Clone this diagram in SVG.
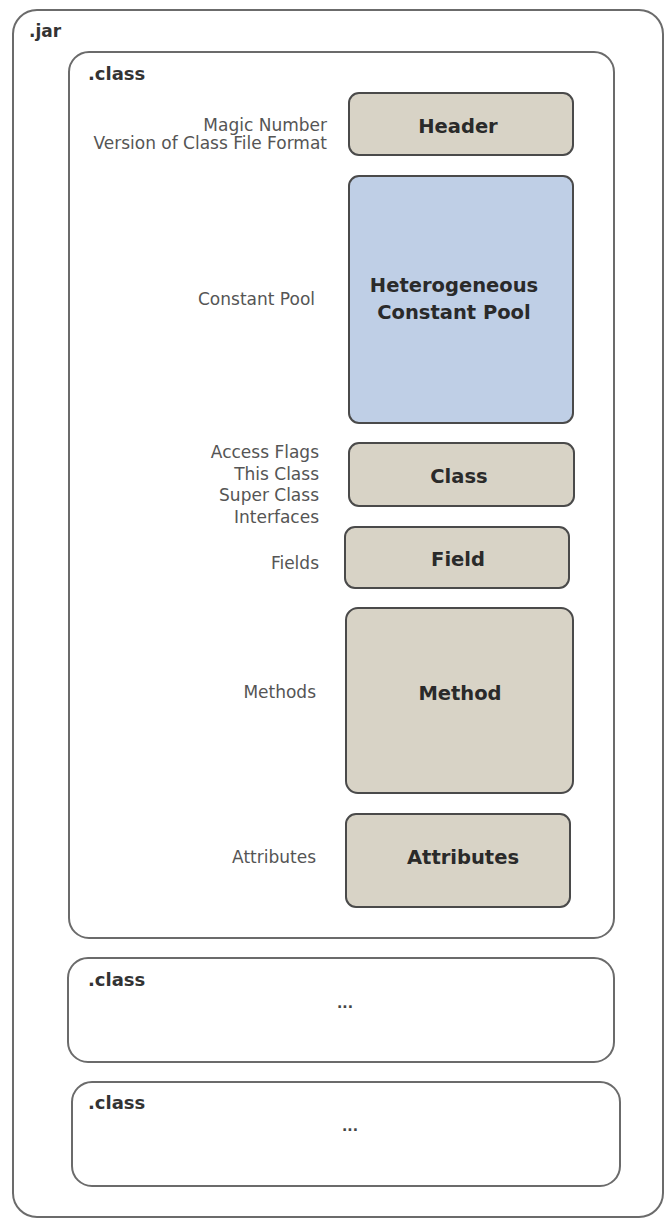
<svg xmlns="http://www.w3.org/2000/svg" width="668" height="1225" viewBox="0 0 668 1225">
<style>
.container{fill:#fff;stroke:#6b6b6b;stroke-width:2}
.box{fill:#d8d3c6;stroke:#4a4a4a;stroke-width:2}
.pool{fill:#bfcfe6;stroke:#4a4a4a;stroke-width:2}
.title{font-family:"DejaVu Sans",sans-serif;font-weight:bold;font-size:18px;fill:#333}
.name{font-family:"DejaVu Sans",sans-serif;font-weight:bold;font-size:19.5px;fill:#2a2a2a;text-anchor:middle}
.lbl{font-family:"DejaVu Sans",sans-serif;font-size:17px;fill:#555;text-anchor:end}
.dots{font-family:"DejaVu Sans",sans-serif;font-weight:bold;font-size:14px;fill:#444;text-anchor:middle}
</style>
<rect width="668" height="1225" fill="#fff"/>
<g id="jar">
<rect class="container" x="13" y="10" width="650" height="1207" rx="24"/>
<text class="title" x="29" y="37" style="font-size:17px">.jar</text>
</g>
<g id="class1">
<rect class="container" x="69" y="52" width="545" height="886" rx="20"/>
<text class="title" x="88" y="80">.class</text>
</g>
<g id="header">
<rect class="box" x="349" y="93" width="224" height="62" rx="10"/>
<text class="name" x="458" y="133">Header</text>
<text class="lbl" x="327" y="131">Magic Number</text>
<text class="lbl" x="327" y="149">Version of Class File Format</text>
</g>
<g id="constant-pool">
<rect class="pool" x="349" y="176" width="224" height="247" rx="10"/>
<text class="name" x="454" y="292">Heterogeneous</text>
<text class="name" x="454" y="319">Constant Pool</text>
<text class="lbl" x="315" y="305">Constant Pool</text>
</g>
<g id="class">
<rect class="box" x="349" y="443" width="225" height="63" rx="10"/>
<text class="name" x="459" y="483">Class</text>
<text class="lbl" x="319" y="458">Access Flags</text>
<text class="lbl" x="319" y="480">This Class</text>
<text class="lbl" x="319" y="501">Super Class</text>
<text class="lbl" x="319" y="523">Interfaces</text>
</g>
<g id="field">
<rect class="box" x="345" y="527" width="224" height="61" rx="10"/>
<text class="name" x="458" y="566">Field</text>
<text class="lbl" x="319" y="569">Fields</text>
</g>
<g id="method">
<rect class="box" x="346" y="608" width="227" height="185" rx="12"/>
<text class="name" x="460" y="700">Method</text>
<text class="lbl" x="316" y="698">Methods</text>
</g>
<g id="attributes">
<rect class="box" x="346" y="814" width="224" height="93" rx="10"/>
<text class="name" x="463" y="864">Attributes</text>
<text class="lbl" x="316" y="863">Attributes</text>
</g>
<g id="class2">
<rect class="container" x="68" y="958" width="546" height="104" rx="20"/>
<text class="title" x="88" y="986">.class</text>
<text class="dots" x="345" y="1008">...</text>
</g>
<g id="class3">
<rect class="container" x="72" y="1082" width="548" height="104" rx="20"/>
<text class="title" x="88" y="1109">.class</text>
<text class="dots" x="350" y="1131">...</text>
</g>
<g id="connectors"/>
</svg>
